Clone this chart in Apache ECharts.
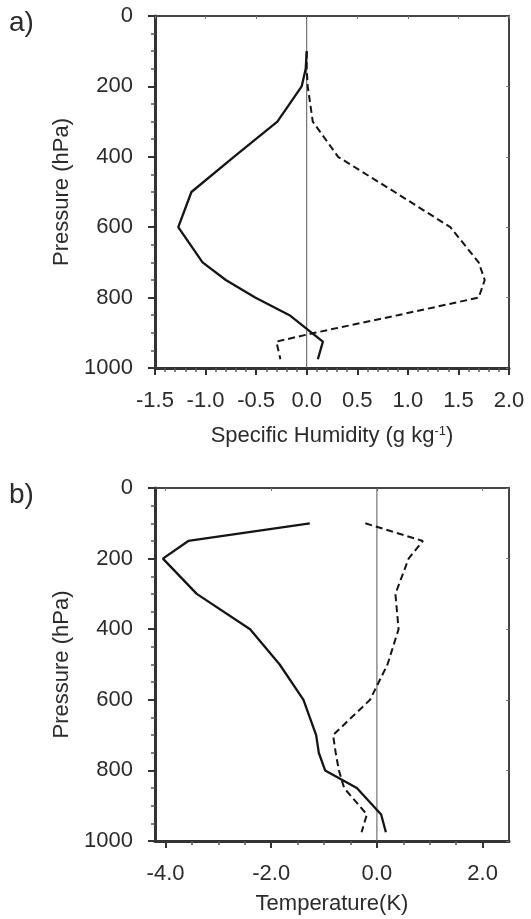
<!DOCTYPE html>
<html>
<head>
<meta charset="utf-8">
<script src="https://cdn.jsdelivr.net/npm/echarts@6/dist/echarts.min.js"></script>
<style>
html,body{margin:0;padding:0;background:#fff;}
#chart{width:531px;height:919px;}
</style>
</head>
<body>
<div id="chart"></div>
<script>
// ---- data ----
const levelsQ = [100,150,200,300,400,500,600,700,750,800,850,900,925,975];
const qSolid  = [0.0,-0.01,-0.05,-0.29,-0.72,-1.14,-1.27,-1.03,-0.80,-0.51,-0.17,0.05,0.16,0.11];
const qDash   = [0.0,0.0,0.01,0.06,0.31,0.87,1.42,1.70,1.76,1.70,0.90,0.08,-0.30,-0.26];

const levelsT = [100,150,200,300,400,500,600,700,750,800,850,925,975];
const tSolid  = [-1.27,-3.57,-4.05,-3.41,-2.40,-1.84,-1.39,-1.15,-1.10,-0.98,-0.38,0.08,0.17];
const tDash   = [-0.22,0.87,0.60,0.35,0.41,0.20,-0.13,-0.83,-0.78,-0.72,-0.62,-0.19,-0.29];

const pRange = [0, 1000];          // pressure axis extent (hPa)
const tMajorTicks = [-4,-2,0,2];
const tMinorTicks = [-3.5,-3,-2.5,-1.5,-1,-0.5,0.5,1,1.5];

// ---- chart ----
const FONT = 'Liberation Sans, Arial, sans-serif';
const TXT = '#2b2b2b';
const AX = '#333';
const FRAME = '#444';

function pairs(xs, ps){ return xs.map((x,i)=>[x, ps[i]]); }

const chart = echarts.init(document.getElementById('chart'), null, {renderer:'canvas'});

const yMain = (grid)=>({
  type:'value', gridIndex:grid, position:'left', inverse:true, min:pRange[0], max:pRange[1], interval:200,
  axisLine:{show:true, onZero:false, lineStyle:{color:AX, width:3}},
  axisTick:{show:true, length:7, lineStyle:{color:AX, width:2}},
  minorTick:{show:true, splitNumber:4, length:4, lineStyle:{color:'#555', width:1.5}},
  axisLabel:{show:true, margin:22, fontSize:22, color:TXT, fontFamily:FONT, formatter:v=>String(v)},
  splitLine:{show:false},
  name:'Pressure (hPa)', nameLocation:'middle', nameGap:82, nameRotate:90,
  nameTextStyle:{fontSize:22, color:TXT, fontFamily:FONT}
});
const yFrame = (grid)=>({
  type:'value', gridIndex:grid, position:'right', inverse:true, min:pRange[0], max:pRange[1], interval:200,
  axisLine:{show:true, onZero:false, lineStyle:{color:FRAME, width:2}},
  axisTick:{show:true, inside:true, length:3, lineStyle:{color:'#777', width:1}},
  axisLabel:{show:false}, splitLine:{show:false}
});

chart.setOption({
  animation:false,
  backgroundColor:'#fff',
  title:[
    {text:'a)', left:9, top:9, padding:0, textStyle:{fontSize:28, fontWeight:'normal', color:TXT, fontFamily:FONT}},
    {text:'b)', left:9, top:481, padding:0, textStyle:{fontSize:28, fontWeight:'normal', color:TXT, fontFamily:FONT}}
  ],
  grid:[
    {left:155, right:22, top:16, height:352},
    {left:155, right:22, top:488, height:353}
  ],
  xAxis:[
    { // 0: top panel main
      type:'value', gridIndex:0, position:'bottom', min:-1.5, max:2.0, interval:0.5,
      axisLine:{show:true, onZero:false, lineStyle:{color:AX, width:3}},
      axisTick:{show:true, length:7, lineStyle:{color:AX, width:2}},
      minorTick:{show:true, splitNumber:5, length:4, lineStyle:{color:'#555', width:1.5}},
      axisLabel:{show:true, margin:22, fontSize:22, color:TXT, fontFamily:FONT, formatter:v=>v.toFixed(1)},
      splitLine:{show:false},
      name:'Specific Humidity (g kg{sup|-1})', nameLocation:'middle', nameGap:57,
      nameTextStyle:{fontSize:22, color:TXT, fontFamily:FONT,
        rich:{sup:{fontSize:13, color:TXT, fontFamily:FONT, verticalAlign:'top', lineHeight:12}}}
    },
    { // 1: top panel frame
      type:'value', gridIndex:0, position:'top', min:-1.5, max:2.0, interval:0.5,
      axisLine:{show:true, onZero:false, lineStyle:{color:FRAME, width:2}},
      axisTick:{show:true, inside:true, length:3, lineStyle:{color:'#777', width:1}},
      axisLabel:{show:false}, splitLine:{show:false}
    },
    { // 2: bottom panel main
      type:'value', gridIndex:1, position:'bottom', min:-4.2, max:2.5,
      axisLine:{show:true, onZero:false, lineStyle:{color:AX, width:3}},
      axisTick:{show:true, length:7, customValues:tMajorTicks, lineStyle:{color:AX, width:2}},
      axisLabel:{show:true, margin:22, fontSize:22, color:TXT, fontFamily:FONT,
        customValues:tMajorTicks, formatter:v=>v.toFixed(1)},
      splitLine:{show:false},
      name:'Temperature(K)', nameLocation:'middle', nameGap:52,
      nameTextStyle:{fontSize:22, color:TXT, fontFamily:FONT}
    },
    { // 3: bottom panel minor ticks
      type:'value', gridIndex:1, position:'bottom', min:-4.2, max:2.5,
      axisLine:{show:false, onZero:false},
      axisTick:{show:true, length:4, customValues:tMinorTicks, lineStyle:{color:'#555', width:1.5}},
      axisLabel:{show:false}, splitLine:{show:false}
    },
    { // 4: bottom panel frame
      type:'value', gridIndex:1, position:'top', min:-4.2, max:2.5,
      axisLine:{show:true, onZero:false, lineStyle:{color:FRAME, width:2}},
      axisTick:{show:true, inside:true, length:3, customValues:tMajorTicks, lineStyle:{color:'#777', width:1}},
      axisLabel:{show:false}, splitLine:{show:false}
    }
  ],
  yAxis:[ yMain(0), yFrame(0), yMain(1), yFrame(1) ],
  series:[
    // zero reference lines
    {type:'line', xAxisIndex:0, yAxisIndex:0, data:[[0,pRange[0]],[0,pRange[1]]], symbol:'none',
      lineStyle:{color:'#555', width:1}, z:1},
    {type:'line', xAxisIndex:2, yAxisIndex:2, data:[[0,pRange[0]],[0,pRange[1]]], symbol:'none',
      lineStyle:{color:'#555', width:1}, z:1},
    // profiles
    {type:'line', xAxisIndex:0, yAxisIndex:0, data:pairs(qSolid, levelsQ), symbol:'none',
      lineStyle:{color:'#151515', width:2.3}},
    {type:'line', xAxisIndex:0, yAxisIndex:0, data:pairs(qDash, levelsQ), symbol:'none',
      lineStyle:{color:'#151515', width:2, type:[7,4]}},
    {type:'line', xAxisIndex:2, yAxisIndex:2, data:pairs(tSolid, levelsT), symbol:'none',
      lineStyle:{color:'#151515', width:2.3}},
    {type:'line', xAxisIndex:2, yAxisIndex:2, data:pairs(tDash, levelsT), symbol:'none',
      lineStyle:{color:'#151515', width:2, type:[7,4]}},
    // empty helpers binding the frame / minor-tick axes
    {type:'line', xAxisIndex:1, yAxisIndex:1, data:[]},
    {type:'line', xAxisIndex:4, yAxisIndex:3, data:[]},
    {type:'line', xAxisIndex:3, yAxisIndex:2, data:[]}
  ]
});
</script>
</body>
</html>
